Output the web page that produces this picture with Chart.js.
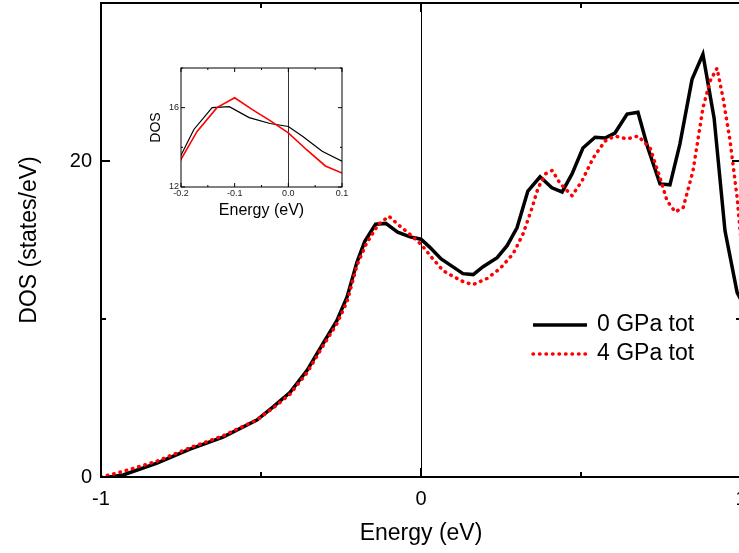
<!DOCTYPE html>
<html>
<head>
<meta charset="utf-8">
<script src="https://cdn.jsdelivr.net/npm/chart.js@4.4.1/dist/chart.umd.min.js"></script>
<style>
  html, body { margin: 0; padding: 0; background: #fff; overflow: hidden; }
  #wrap { position: relative; width: 739px; height: 553px; overflow: hidden; }
  #main { position: absolute; left: 0; top: 0; }
  #inset { position: absolute; left: 140px; top: 55px; }
</style>
</head>
<body>
<div id="wrap">
  <canvas id="main" width="760" height="553"></canvas>
  <canvas id="inset" width="220" height="170"></canvas>
</div>
<script>
// total DOS, 0 GPa
const energy0 = [-0.975, -0.931, -0.825, -0.722, -0.619, -0.513, -0.463, -0.409, -0.356, -0.306,
  -0.263, -0.231, -0.2, -0.176, -0.142, -0.11, -0.073, -0.034, 0, 0.027,
  0.063, 0.1, 0.131, 0.163, 0.194, 0.238, 0.269, 0.3, 0.334, 0.372,
  0.409, 0.441, 0.472, 0.506, 0.544, 0.575, 0.606, 0.644, 0.678, 0.709,
  0.747, 0.778, 0.809, 0.847, 0.881, 0.916, 0.95, 0.988, 1.0];
const dos0 = [0, 0.13, 0.88, 1.77, 2.52, 3.6, 4.42, 5.36, 6.75, 8.45,
  9.9, 11.4, 13.6, 14.9, 16.0, 16.05, 15.5, 15.2, 15.05, 14.55,
  13.8, 13.3, 12.87, 12.81, 13.31, 13.88, 14.64, 15.77, 18.1, 19.0,
  18.3, 18.04, 19.18, 20.82, 21.5, 21.45, 21.77, 22.97, 23.09, 20.82,
  18.55, 18.49, 21.07, 25.17, 26.75, 22.71, 15.58, 11.67, 11.2];

// total DOS, 4 GPa
const energy4 = [-1.0, -0.97, -0.931, -0.825, -0.722, -0.619, -0.513, -0.463, -0.409, -0.356,
  -0.306, -0.263, -0.231, -0.2, -0.17, -0.133, -0.1, -0.067, -0.034, 0,
  0.034, 0.069, 0.1, 0.133, 0.163, 0.206, 0.247, 0.288, 0.319, 0.347,
  0.366, 0.39, 0.41, 0.434, 0.472, 0.503, 0.538, 0.575, 0.606, 0.644,
  0.678, 0.716, 0.747, 0.769, 0.794, 0.819, 0.85, 0.881, 0.903, 0.925,
  0.944, 0.966, 0.988, 1.0];
const dos4 = [0, 0.15, 0.35, 1.0, 1.85, 2.6, 3.62, 4.35, 5.25, 6.6,
  8.3, 9.7, 11.1, 13.4, 14.8, 16.0, 16.5, 15.9, 15.35, 14.73,
  13.88, 13.06, 12.7, 12.35, 12.18, 12.56, 13.19, 14.13, 15.39, 17.03,
  18.3, 19.2, 19.4, 18.6, 17.8, 18.74, 20.19, 21.26, 21.58, 21.39,
  21.58, 20.82, 18.93, 17.48, 16.78, 17.03, 19.37, 23.34, 25.05, 25.87,
  23.97, 21.26, 17.67, 14.95];

const seriesLabels = ['0 GPa tot', '4 GPa tot'];

// labelled ticks; the other ticks are drawn as minor ones
const mainXLabels = [-1, 0, 1];
const mainYLabels = [0, 20];
const insetXLabels = [-0.2, -0.1, 0, 0.1];
const insetYLabels = [12, 16];

const FONT = "'Liberation Sans', Arial, sans-serif";

const pts = (xs, ys) => xs.map((x, i) => ({ x: x, y: ys[i] }));
const hasLabel = (list, v) => list.some(t => Math.abs(t - v) < 1e-9);

// vertical line at the Fermi level, under the curves
const fermiLine = {
  id: 'fermiLine',
  beforeDatasetsDraw(chart, args, opts) {
    const { ctx, chartArea: a } = chart;
    const px = Math.round(chart.scales.x.getPixelForValue(0)) + 0.5;
    ctx.save();
    ctx.strokeStyle = opts.color;
    ctx.lineWidth = opts.width;
    ctx.beginPath();
    ctx.moveTo(px, a.top);
    ctx.lineTo(px, a.bottom);
    ctx.stroke();
    ctx.restore();
  }
};

// closed frame with ticks pointing inwards on all four sides
const frame = {
  id: 'frame',
  afterDatasetsDraw(chart, args, opts) {
    const { ctx, chartArea: a } = chart;
    const { x, y } = chart.scales;
    ctx.save();
    ctx.strokeStyle = '#000';
    ctx.lineWidth = opts.tickWidth;
    ctx.beginPath();
    x.ticks.forEach(t => {
      const px = x.getPixelForValue(t.value);
      const len = t.label ? opts.major : opts.minor;
      ctx.moveTo(px, a.bottom);
      ctx.lineTo(px, a.bottom - len);
      ctx.moveTo(px, a.top);
      ctx.lineTo(px, a.top + len);
    });
    y.ticks.forEach(t => {
      const py = y.getPixelForValue(t.value);
      const len = t.label ? opts.major : opts.minor;
      ctx.moveTo(a.left, py);
      ctx.lineTo(a.left + len, py);
      ctx.moveTo(a.right, py);
      ctx.lineTo(a.right - len, py);
    });
    ctx.stroke();
    ctx.lineWidth = opts.width;
    ctx.strokeRect(a.left, a.top, a.right - a.left, a.bottom - a.top);
    ctx.restore();
  }
};

// legend drawn inside the plot area
const key = {
  id: 'key',
  afterDraw(chart, args, opts) {
    const ctx = chart.ctx;
    chart.data.datasets.forEach((ds, i) => {
      const yy = opts.top + i * opts.rowGap;
      ctx.save();
      ctx.strokeStyle = ds.borderColor;
      ctx.lineWidth = ds.borderWidth;
      ctx.lineCap = ds.borderCapStyle || 'butt';
      ctx.setLineDash(ds.borderDash || []);
      ctx.beginPath();
      ctx.moveTo(opts.left, yy);
      ctx.lineTo(opts.left + opts.lineLen, yy);
      ctx.stroke();
      ctx.setLineDash([]);
      ctx.fillStyle = '#000';
      ctx.font = opts.fontSize + 'px ' + FONT;
      ctx.textBaseline = 'middle';
      ctx.fillText(ds.label, opts.left + opts.lineLen + opts.gap, yy);
      ctx.restore();
    });
  }
};

function fixBox(width, height) {
  return function (scale) {
    if (width != null) scale.width = width;
    if (height != null) scale.height = height;
    scale.paddingTop = 0;
    scale.paddingBottom = 0;
    scale.paddingLeft = 0;
    scale.paddingRight = 0;
  };
}

new Chart(document.getElementById('main').getContext('2d'), {
  type: 'line',
  data: {
    datasets: [
      {
        label: seriesLabels[0],
        data: pts(energy0, dos0),
        borderColor: '#000',
        borderWidth: 3.5,
        borderJoinStyle: 'miter',
        pointRadius: 0,
        tension: 0,
        order: 1
      },
      {
        label: seriesLabels[1],
        data: pts(energy4, dos4),
        borderColor: '#ff0000',
        borderWidth: 3.5,
        borderDash: [0.5, 6],
        borderCapStyle: 'round',
        pointRadius: 0,
        tension: 0,
        order: 0
      }
    ]
  },
  options: {
    responsive: false,
    animation: false,
    layout: { padding: { top: 3, right: 19, left: 0, bottom: 0 } },
    scales: {
      x: {
        type: 'linear',
        min: -1,
        max: 1,
        grid: { display: false, drawTicks: false },
        border: { display: false },
        ticks: {
          stepSize: 0.5,
          padding: 10,
          maxRotation: 0,
          autoSkip: false,
          color: '#000',
          font: { family: FONT, size: 20 },
          callback: v => hasLabel(mainXLabels, v) ? String(v) : ''
        },
        title: {
          display: true,
          text: 'Energy (eV)',
          color: '#000',
          font: { family: FONT, size: 23 },
          padding: { top: 0, bottom: 6 }
        },
        afterFit: fixBox(null, 76)
      },
      y: {
        type: 'linear',
        min: 0,
        max: 30,
        grid: { display: false, drawTicks: false },
        border: { display: false },
        ticks: {
          stepSize: 10,
          padding: 9,
          autoSkip: false,
          color: '#000',
          font: { family: FONT, size: 20 },
          callback: v => hasLabel(mainYLabels, v) ? String(v) : ''
        },
        title: {
          display: true,
          text: 'DOS (states/eV)',
          color: '#000',
          font: { family: FONT, size: 23 },
          padding: { top: 16, bottom: 0 }
        },
        afterFit: fixBox(101, null)
      }
    },
    plugins: {
      legend: { display: false },
      tooltip: { enabled: false },
      fermiLine: { color: '#000', width: 1 },
      frame: { width: 2, tickWidth: 2, major: 9, minor: 5 },
      key: { left: 533, top: 325, rowGap: 29, lineLen: 54, gap: 10, fontSize: 23 }
    }
  },
  plugins: [fermiLine, frame, key]
});

// inset: close-up around the Fermi level
new Chart(document.getElementById('inset').getContext('2d'), {
  type: 'line',
  data: {
    datasets: [
      {
        label: seriesLabels[0],
        data: pts(energy0, dos0),
        borderColor: '#000',
        borderWidth: 1.2,
        pointRadius: 0,
        tension: 0,
        order: 1
      },
      {
        label: seriesLabels[1],
        data: pts(energy4, dos4),
        borderColor: '#ff0000',
        borderWidth: 1.6,
        pointRadius: 0,
        tension: 0,
        order: 0
      }
    ]
  },
  options: {
    responsive: false,
    animation: false,
    layout: { padding: { top: 13, right: 18, left: 0, bottom: 0 } },
    scales: {
      x: {
        type: 'linear',
        min: -0.2,
        max: 0.1,
        grid: { display: false, drawTicks: false },
        border: { display: false },
        ticks: {
          stepSize: 0.05,
          padding: 1,
          maxRotation: 0,
          autoSkip: false,
          color: '#222',
          font: { family: FONT, size: 9 },
          callback: v => hasLabel(insetXLabels, v) ? v.toFixed(1) : ''
        },
        title: {
          display: true,
          text: 'Energy (eV)',
          color: '#000',
          font: { family: FONT, size: 16 },
          padding: { top: 0, bottom: 5 }
        },
        afterFit: fixBox(null, 38)
      },
      y: {
        type: 'linear',
        min: 12,
        max: 18,
        grid: { display: false, drawTicks: false },
        border: { display: false },
        ticks: {
          stepSize: 2,
          padding: 2,
          autoSkip: false,
          color: '#222',
          font: { family: FONT, size: 9 },
          callback: v => hasLabel(insetYLabels, v) ? String(v) : ''
        },
        title: {
          display: true,
          text: 'DOS',
          color: '#000',
          font: { family: FONT, size: 14 },
          padding: { top: 8, bottom: 0 }
        },
        afterFit: fixBox(41, null)
      }
    },
    plugins: {
      legend: { display: false },
      tooltip: { enabled: false },
      fermiLine: { color: '#333', width: 1 },
      frame: { width: 1, tickWidth: 1, major: 4, minor: 2 }
    }
  },
  plugins: [fermiLine, frame]
});
</script>
</body>
</html>
